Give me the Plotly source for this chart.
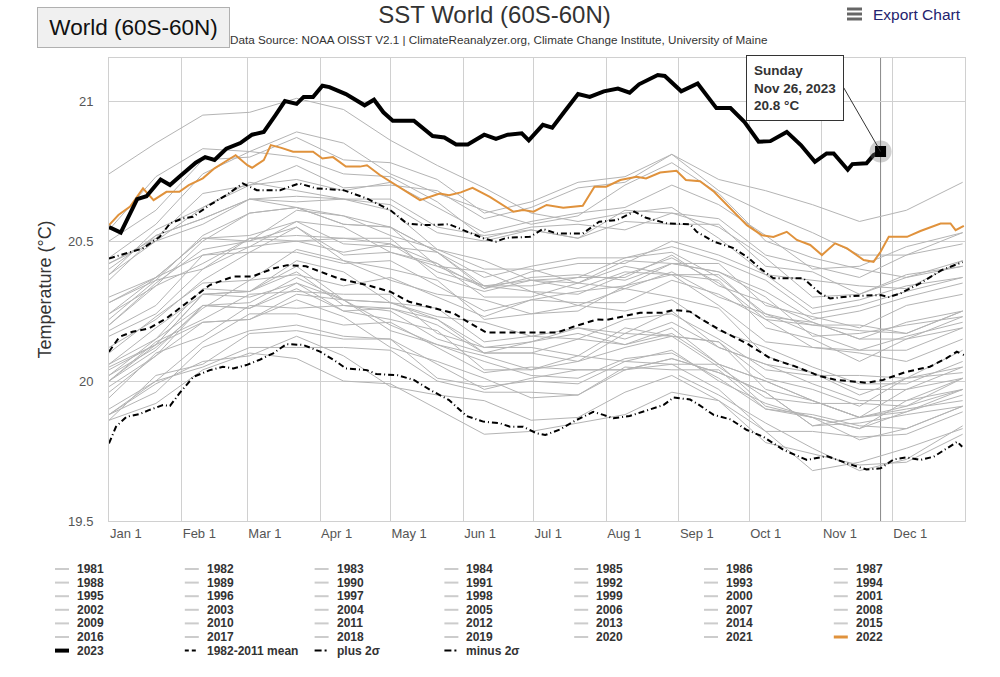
import plotly.graph_objects as go

# ---------------- data ----------------
month_starts = [0, 31, 59, 90, 120, 151, 181, 212, 243, 273, 304, 334]
month_labels = ["Jan 1", "Feb 1", "Mar 1", "Apr 1", "May 1", "Jun 1",
                "Jul 1", "Aug 1", "Sep 1", "Oct 1", "Nov 1", "Dec 1"]

gray_days = [0, 20, 40, 60, 80, 100, 120, 140, 160, 180, 200, 220, 240, 260, 280, 300, 320, 340, 364]
days_1981 = [243, 260, 280, 300, 320, 340, 364]
y1981 = [20.02, 19.95, 19.85, 19.76, 19.68, 19.72, 19.84]
y1982 = [19.88, 20.00, 20.05, 20.12, 20.12, 20.12, 20.11, 20.00, 19.96, 19.96, 19.95, 20.05, 20.04, 20.04, 19.90, 19.87, 19.83, 19.93, 19.97]
y1983 = [20.05, 20.13, 20.31, 20.30, 20.35, 20.25, 20.22, 20.18, 20.04, 20.04, 20.09, 20.07, 20.11, 20.00, 19.92, 19.87, 19.79, 19.83, 19.91]
y1984 = [19.88, 19.99, 20.07, 20.09, 20.16, 20.09, 19.98, 19.95, 19.93, 19.86, 19.87, 19.96, 20.02, 19.93, 19.78, 19.74, 19.70, 19.71, 19.81]
y1985 = [19.86, 19.92, 20.04, 20.10, 20.08, 20.00, 19.99, 19.90, 19.81, 19.82, 19.85, 19.88, 19.96, 19.93, 19.82, 19.68, 19.71, 19.76, 19.83]
y1986 = [19.86, 20.02, 20.06, 20.17, 20.18, 20.15, 20.15, 20.01, 19.98, 20.00, 19.99, 20.07, 20.06, 20.06, 19.91, 19.87, 19.83, 19.89, 19.95]
y1987 = [19.98, 20.09, 20.27, 20.28, 20.37, 20.29, 20.28, 20.26, 20.14, 20.16, 20.19, 20.17, 20.25, 20.12, 20.06, 19.99, 19.93, 19.93, 20.01]
y1988 = [20.02, 20.15, 20.27, 20.26, 20.35, 20.29, 20.18, 20.13, 20.07, 20.02, 20.01, 20.08, 20.10, 20.01, 19.90, 19.88, 19.84, 19.83, 19.91]
y1989 = [19.88, 19.96, 20.12, 20.18, 20.20, 20.16, 20.15, 20.06, 19.97, 20.01, 20.04, 20.04, 20.08, 20.03, 19.96, 19.84, 19.87, 19.90, 19.93]
y1990 = [20.00, 20.14, 20.22, 20.31, 20.32, 20.31, 20.31, 20.17, 20.12, 20.12, 20.09, 20.19, 20.16, 20.14, 19.97, 19.93, 19.87, 19.97, 20.01]
y1991 = [20.00, 20.11, 20.27, 20.26, 20.33, 20.25, 20.26, 20.22, 20.12, 20.14, 20.17, 20.13, 20.19, 20.06, 20.00, 19.93, 19.87, 19.91, 19.97]
y1992 = [20.00, 20.13, 20.21, 20.22, 20.29, 20.23, 20.12, 20.07, 20.01, 19.94, 19.95, 20.04, 20.06, 19.97, 19.82, 19.82, 19.80, 19.81, 19.89]
y1993 = [19.90, 20.00, 20.14, 20.24, 20.24, 20.20, 20.21, 20.12, 20.03, 20.05, 20.04, 20.04, 20.08, 20.03, 19.96, 19.84, 19.85, 19.88, 19.91]
y1994 = [19.94, 20.10, 20.16, 20.27, 20.26, 20.27, 20.25, 20.15, 20.10, 20.10, 20.07, 20.17, 20.16, 20.14, 20.01, 19.97, 19.91, 20.01, 20.05]
y1995 = [20.06, 20.15, 20.33, 20.32, 20.39, 20.27, 20.26, 20.20, 20.10, 20.10, 20.15, 20.13, 20.17, 20.06, 20.00, 19.93, 19.87, 19.89, 19.97]
y1996 = [19.96, 20.09, 20.21, 20.22, 20.31, 20.29, 20.20, 20.13, 20.09, 20.04, 20.07, 20.12, 20.16, 20.05, 19.94, 19.92, 19.92, 19.91, 20.01]
y1997 = [20.02, 20.12, 20.26, 20.36, 20.38, 20.34, 20.37, 20.30, 20.23, 20.29, 20.32, 20.34, 20.42, 20.39, 20.32, 20.22, 20.25, 20.30, 20.35]
y1998 = [20.36, 20.52, 20.58, 20.65, 20.62, 20.59, 20.55, 20.41, 20.34, 20.32, 20.27, 20.33, 20.30, 20.26, 20.09, 20.03, 19.95, 20.01, 20.03]
y1999 = [20.04, 20.13, 20.31, 20.32, 20.41, 20.29, 20.28, 20.22, 20.10, 20.14, 20.19, 20.15, 20.21, 20.12, 20.06, 20.03, 19.97, 19.97, 20.05]
y2000 = [20.06, 20.19, 20.31, 20.32, 20.43, 20.39, 20.28, 20.23, 20.21, 20.16, 20.15, 20.22, 20.24, 20.15, 20.04, 20.02, 20.02, 20.01, 20.11]
y2001 = [20.12, 20.22, 20.36, 20.46, 20.46, 20.42, 20.43, 20.34, 20.25, 20.29, 20.28, 20.28, 20.36, 20.31, 20.22, 20.12, 20.11, 20.16, 20.21]
y2002 = [20.20, 20.34, 20.42, 20.51, 20.52, 20.51, 20.51, 20.37, 20.32, 20.36, 20.33, 20.39, 20.38, 20.38, 20.23, 20.21, 20.15, 20.21, 20.25]
y2003 = [20.28, 20.37, 20.51, 20.52, 20.57, 20.49, 20.48, 20.46, 20.34, 20.34, 20.37, 20.37, 20.45, 20.34, 20.28, 20.21, 20.15, 20.15, 20.23]
y2004 = [20.24, 20.37, 20.45, 20.48, 20.57, 20.55, 20.46, 20.41, 20.39, 20.32, 20.31, 20.38, 20.44, 20.35, 20.22, 20.20, 20.20, 20.17, 20.25]
y2005 = [20.24, 20.34, 20.50, 20.60, 20.62, 20.56, 20.55, 20.46, 20.33, 20.37, 20.38, 20.36, 20.42, 20.39, 20.30, 20.16, 20.17, 20.20, 20.23]
y2006 = [20.22, 20.36, 20.40, 20.51, 20.50, 20.51, 20.49, 20.39, 20.34, 20.36, 20.35, 20.43, 20.42, 20.42, 20.27, 20.23, 20.19, 20.27, 20.31]
y2007 = [20.30, 20.37, 20.51, 20.50, 20.55, 20.43, 20.40, 20.36, 20.22, 20.24, 20.27, 20.25, 20.29, 20.18, 20.12, 20.05, 19.99, 19.99, 20.07]
y2008 = [20.10, 20.23, 20.35, 20.36, 20.47, 20.43, 20.36, 20.31, 20.29, 20.24, 20.25, 20.34, 20.38, 20.27, 20.14, 20.12, 20.10, 20.07, 20.15]
y2009 = [20.16, 20.24, 20.40, 20.48, 20.50, 20.46, 20.49, 20.42, 20.33, 20.39, 20.42, 20.42, 20.50, 20.45, 20.38, 20.26, 20.29, 20.34, 20.37]
y2010 = [20.38, 20.54, 20.62, 20.71, 20.68, 20.65, 20.61, 20.47, 20.40, 20.40, 20.35, 20.41, 20.38, 20.36, 20.19, 20.15, 20.07, 20.15, 20.19]
y2011 = [20.18, 20.27, 20.45, 20.46, 20.55, 20.45, 20.46, 20.42, 20.30, 20.30, 20.35, 20.33, 20.39, 20.30, 20.24, 20.17, 20.11, 20.11, 20.19]
y2012 = [20.20, 20.35, 20.47, 20.50, 20.61, 20.59, 20.52, 20.47, 20.43, 20.36, 20.37, 20.44, 20.46, 20.37, 20.24, 20.20, 20.18, 20.17, 20.25]
y2013 = [20.28, 20.36, 20.52, 20.60, 20.62, 20.56, 20.55, 20.46, 20.37, 20.41, 20.44, 20.44, 20.48, 20.43, 20.36, 20.24, 20.27, 20.32, 20.37]
y2014 = [20.38, 20.50, 20.56, 20.65, 20.66, 20.65, 20.65, 20.55, 20.52, 20.54, 20.51, 20.57, 20.56, 20.56, 20.41, 20.39, 20.31, 20.37, 20.41]
y2015 = [20.42, 20.51, 20.67, 20.70, 20.77, 20.69, 20.70, 20.68, 20.58, 20.62, 20.69, 20.71, 20.81, 20.72, 20.68, 20.63, 20.57, 20.61, 20.71]
y2016 = [20.74, 20.85, 20.95, 20.96, 21.01, 20.97, 20.86, 20.77, 20.69, 20.60, 20.57, 20.60, 20.62, 20.51, 20.38, 20.36, 20.34, 20.33, 20.43]
y2017 = [20.44, 20.56, 20.74, 20.82, 20.80, 20.74, 20.73, 20.64, 20.51, 20.55, 20.56, 20.54, 20.60, 20.55, 20.44, 20.30, 20.31, 20.38, 20.41]
y2018 = [20.40, 20.52, 20.58, 20.65, 20.64, 20.65, 20.63, 20.53, 20.50, 20.54, 20.51, 20.61, 20.60, 20.58, 20.45, 20.41, 20.37, 20.45, 20.49]
y2019 = [20.50, 20.61, 20.79, 20.80, 20.87, 20.79, 20.78, 20.72, 20.60, 20.64, 20.71, 20.73, 20.81, 20.68, 20.60, 20.53, 20.45, 20.45, 20.53]
y2020 = [20.54, 20.73, 20.83, 20.82, 20.89, 20.85, 20.74, 20.67, 20.61, 20.56, 20.59, 20.70, 20.78, 20.67, 20.50, 20.44, 20.40, 20.37, 20.43]
y2021 = [20.42, 20.50, 20.62, 20.70, 20.72, 20.68, 20.71, 20.62, 20.53, 20.57, 20.60, 20.62, 20.70, 20.63, 20.52, 20.40, 20.41, 20.48, 20.53]

days_2022 = [0, 4, 9, 14.5, 19, 24.5, 30, 34, 40, 45, 50, 54, 59, 61, 66, 69, 73.5, 78.5, 87, 91, 95.5,
             101, 107, 110, 115.5, 120.5, 127, 132.6, 141, 145, 150, 155, 162.4, 172.4, 176.6, 181,
             186.6, 193.7, 202, 207, 212, 218, 225, 229, 235, 242, 246, 252, 258, 265, 272, 278.4,
             283.3, 289, 293.3, 299, 304, 309.6, 314.7, 321.8, 326, 329, 332.5, 340.3, 346, 354.6,
             358.8, 361, 364.5]
y2022 = [20.557, 20.593, 20.623, 20.688, 20.646, 20.676, 20.676, 20.70, 20.724, 20.76, 20.786, 20.807,
         20.771, 20.762, 20.789, 20.843, 20.833, 20.819, 20.819, 20.795, 20.80, 20.766, 20.766, 20.771,
         20.736, 20.71, 20.676, 20.646, 20.67, 20.664, 20.674, 20.69, 20.658, 20.605, 20.611, 20.605,
         20.629, 20.619, 20.626, 20.694, 20.694, 20.718, 20.73, 20.724, 20.745, 20.751, 20.718, 20.714,
         20.676, 20.617, 20.557, 20.521, 20.515, 20.533, 20.504, 20.486, 20.45, 20.492, 20.474, 20.432,
         20.426, 20.462, 20.515, 20.515, 20.536, 20.563, 20.563, 20.539, 20.554]

days_2023 = [0, 5, 12, 16, 22, 26, 30, 37, 41, 45, 50, 56, 61, 66, 71, 75, 80, 83, 87, 91, 94, 101,
             109, 113, 117, 121, 130, 138, 143, 148, 153, 160, 165, 170, 176, 179, 185, 189, 194,
             200, 205, 211, 217, 222, 226, 234, 237, 244, 251, 259, 265, 271, 277, 282, 289, 295,
             301, 306, 309, 315, 317, 323, 326, 329]
y2023 = [20.55, 20.53, 20.65, 20.66, 20.72, 20.70, 20.73, 20.78, 20.80, 20.79, 20.83, 20.85, 20.88,
         20.89, 20.95, 21.00, 20.99, 21.015, 21.015, 21.055, 21.05, 21.025, 20.985, 21.005, 20.96,
         20.93, 20.93, 20.875, 20.87, 20.845, 20.845, 20.88, 20.865, 20.88, 20.885, 20.86, 20.915,
         20.905, 20.96, 21.025, 21.015, 21.035, 21.045, 21.03, 21.06, 21.093, 21.09, 21.035, 21.063,
         20.975, 20.975, 20.925, 20.855, 20.857, 20.89, 20.843, 20.783, 20.813, 20.813, 20.755, 20.775,
         20.778, 20.807, 20.82]

days_mean = [0, 4.5, 10, 17, 24.5, 30, 36, 43, 53, 61, 70, 76, 84, 90, 98, 110, 120, 128, 138, 147,
             154, 161, 170, 191, 198, 208, 212, 219, 226.5, 236, 240.7, 247.8, 252, 260.6, 272, 282,
             292, 303, 310, 323, 330, 340, 350, 357, 361.5, 364.5]
clim_mean = [20.105, 20.158, 20.176, 20.188, 20.224, 20.26, 20.30, 20.343, 20.373, 20.373, 20.402,
             20.414, 20.41, 20.39, 20.366, 20.343, 20.319, 20.283, 20.26, 20.242, 20.206, 20.173,
             20.173, 20.173, 20.194, 20.22, 20.218, 20.23, 20.244, 20.244, 20.254, 20.248, 20.224,
             20.182, 20.134, 20.081, 20.054, 20.018, 20.004, 19.994, 20.004, 20.033, 20.051, 20.081,
             20.105, 20.093]

days_plus = [0, 7.4, 14.5, 21.6, 26, 31.5, 35.8, 43, 50, 57, 63, 73, 81, 88.5, 100, 110, 120, 127,
             134, 145, 152.5, 159.6, 165, 169.6, 179.5, 185, 191, 202, 209, 216.5, 224, 229, 238,
             247.8, 250.6, 257.8, 266, 272, 277.7, 283.3, 296, 303, 307.5, 317.5, 329, 332.5, 337.5,
             346, 355, 364]
plus_2sd = [20.438, 20.456, 20.474, 20.515, 20.563, 20.581, 20.587, 20.629, 20.664, 20.706, 20.682,
            20.682, 20.706, 20.688, 20.682, 20.652, 20.61, 20.563, 20.557, 20.56, 20.533, 20.51,
            20.498, 20.512, 20.515, 20.543, 20.527, 20.527, 20.569, 20.575, 20.605, 20.583, 20.563,
            20.56, 20.533, 20.498, 20.476, 20.444, 20.402, 20.367, 20.367, 20.315, 20.295, 20.304,
            20.307, 20.30, 20.313, 20.35, 20.396, 20.425]

days_minus = [0, 3, 7.4, 13, 17, 23, 26, 30, 36, 43, 48.6, 53, 58.6, 64, 70, 75.7, 82.8, 90, 97, 101,
              110, 114, 123, 130, 137, 145, 152.5, 159.6, 166.7, 171, 176.6, 182.4, 186, 192.3,
              199.4, 206.5, 210.8, 215, 222, 230.7, 236.4, 240.7, 247.8, 250.7, 257.8, 265, 272, 279,
              287.6, 297.6, 306, 314.7, 323, 329, 334.6, 340, 346, 351.7, 357.4, 361.7, 363.8]
minus_2sd = [19.777, 19.837, 19.872, 19.882, 19.896, 19.914, 19.911, 19.956, 20.015, 20.039, 20.051,
             20.045, 20.057, 20.075, 20.099, 20.132, 20.129, 20.105, 20.069, 20.045, 20.039, 20.025,
             20.021, 20.004, 19.968, 19.932, 19.875, 19.855, 19.849, 19.837, 19.837, 19.813, 19.807,
             19.827, 19.861, 19.89, 19.879, 19.867, 19.875, 19.899, 19.914, 19.941, 19.934, 19.92,
             19.879, 19.863, 19.825, 19.801, 19.754, 19.718, 19.732, 19.706, 19.684, 19.688, 19.72,
             19.727, 19.718, 19.73, 19.76, 19.783, 19.765]

gray_years = list(range(1981, 2022))
gray_values = [y1981, y1982, y1983, y1984, y1985, y1986, y1987, y1988, y1989, y1990, y1991, y1992,
               y1993, y1994, y1995, y1996, y1997, y1998, y1999, y2000, y2001, y2002, y2003, y2004,
               y2005, y2006, y2007, y2008, y2009, y2010, y2011, y2012, y2013, y2014, y2015, y2016,
               y2017, y2018, y2019, y2020, y2021]

# ---------------- styles ----------------
FONT = "Liberation Sans, Arial, sans-serif"
GRAY = "#b4b4b4"
ORANGE = "#e0923c"
GRID = "#d0d0d0"

W, H = 1000, 677
ML, MR, MT, MB = 109, 35, 58, 156
PW, PH = W - ML - MR, H - MT - MB


def px(x):  # window pixel -> paper x
    return (x - ML) / PW


def py(y):  # window pixel -> paper y
    return (H - MB - y) / PH


fig = go.Figure()

for yr, vals in zip(gray_years, gray_values):
    xs = days_1981 if yr == 1981 else gray_days
    fig.add_trace(go.Scatter(x=xs, y=vals, mode="lines", name=str(yr),
                             line=dict(color=GRAY, width=1), hoverinfo="skip"))

fig.add_trace(go.Scatter(x=days_2022, y=y2022, mode="lines", name="2022",
                         line=dict(color=ORANGE, width=2)))
fig.add_trace(go.Scatter(x=days_2023, y=y2023, mode="lines", name="2023",
                         line=dict(color="black", width=4)))
fig.add_trace(go.Scatter(x=days_mean, y=clim_mean, mode="lines", name="1982-2011 mean",
                         line=dict(color="black", width=2, dash="6px,4px")))
fig.add_trace(go.Scatter(x=days_plus, y=plus_2sd, mode="lines", name="plus 2σ",
                         line=dict(color="black", width=2, dash="6px,3px,1px,3px")))
fig.add_trace(go.Scatter(x=days_minus, y=minus_2sd, mode="lines", name="minus 2σ",
                         line=dict(color="black", width=2, dash="6px,3px,1px,3px")))

# hovered point (last 2023 value)
last_day, last_val = days_2023[-1], y2023[-1]
fig.add_trace(go.Scatter(x=[last_day], y=[last_val], mode="markers", showlegend=False,
                         marker=dict(symbol="circle", size=22, color="rgba(120,120,120,0.35)")))
fig.add_trace(go.Scatter(x=[last_day], y=[last_val], mode="markers", showlegend=False,
                         marker=dict(symbol="square", size=11, color="black")))

shapes = []
annotations = []

# crosshair
shapes.append(dict(type="line", xref="x", yref="paper", x0=last_day, x1=last_day, y0=0, y1=1,
                   layer="below", line=dict(color="#888888", width=1)))

# tooltip
annotations.append(dict(
    x=last_day, y=last_val, xref="x", yref="y",
    text="<b>Sunday</b><br><b>Nov 26, 2023</b><br><b>20.8 °C</b>",
    showarrow=True, arrowhead=0, arrowwidth=1, arrowcolor="#333333",
    ax=-37, ay=-64, xanchor="right", yanchor="middle", align="left",
    bgcolor="white", bordercolor="#333333", borderwidth=1, borderpad=7,
    font=dict(family=FONT, size=13.5, color="#333333")))

# region button
annotations.append(dict(
    x=px(133.5), y=py(27.5), xref="paper", yref="paper", xanchor="center", yanchor="middle",
    text="World (60S-60N)", showarrow=False, width=191, height=39, borderpad=0,
    bgcolor="#f0f0f0", bordercolor="#b0b0b0", borderwidth=1,
    font=dict(family=FONT, size=22.5, color="#111111")))

# subtitle
annotations.append(dict(
    x=px(498.5), y=py(39), xref="paper", yref="paper", xanchor="center", yanchor="middle",
    text="Data Source: NOAA OISST V2.1 | ClimateReanalyzer.org, Climate Change Institute, University of Maine",
    showarrow=False, font=dict(family=FONT, size=11.7, color="#333333")))

# export chart
annotations.append(dict(
    x=px(871), y=py(14), xref="paper", yref="paper", xanchor="left", yanchor="middle",
    text="Export Chart", showarrow=False, font=dict(family=FONT, size=15.5, color="#23236e")))
for yb in (9, 14, 19):
    shapes.append(dict(type="line", xref="paper", yref="paper", x0=px(847), x1=px(862),
                       y0=py(yb), y1=py(yb), line=dict(color="#666666", width=3)))

# custom legend (7 columns, Highcharts-like compact rows)
legend_items = [(str(y), "gray") for y in gray_years] + [("2022", "orange"), ("2023", "black"),
                ("1982-2011 mean", "mean"), ("plus 2σ", "sd"), ("minus 2σ", "sd")]
col_w, row_h = 129.8, 13.6
for i, (label, style) in enumerate(legend_items):
    r, c = divmod(i, 7)
    ycen = 569 + r * row_h
    x0 = 55 + c * col_w
    if style == "gray":
        ln = dict(color="#cccccc", width=2)
    elif style == "orange":
        ln = dict(color=ORANGE, width=3)
    elif style == "black":
        ln = dict(color="black", width=4)
    elif style == "mean":
        ln = dict(color="black", width=2, dash="4px,3px")
    else:
        ln = dict(color="black", width=2, dash="7px,3px,2px,3px")
    shapes.append(dict(type="line", xref="paper", yref="paper", x0=px(x0), x1=px(x0 + 14),
                       y0=py(ycen), y1=py(ycen), line=ln))
    annotations.append(dict(x=px(x0 + 20), y=py(ycen), xref="paper", yref="paper",
                            xanchor="left", yanchor="middle", text=f"<b>{label}</b>",
                            showarrow=False, font=dict(family=FONT, size=12, color="#333333")))

fig.update_layout(
    width=W, height=H,
    margin=dict(l=ML, r=MR, t=MT, b=MB),
    paper_bgcolor="white", plot_bgcolor="white",
    showlegend=False,
    title=dict(text="SST World (60S-60N)", x=494.5 / W, xref="container", xanchor="center",
               y=1 - 15 / H, yref="container", yanchor="middle",
               font=dict(family=FONT, size=24, color="#333333")),
    xaxis=dict(range=[0, 365], tickvals=month_starts, ticktext=month_labels,
               ticklabelposition="outside right", ticks="outside", ticklen=12,
               tickcolor="rgba(0,0,0,0)",
               showgrid=True, gridcolor=GRID, gridwidth=1,
               showline=True, linecolor=GRID, mirror=True, zeroline=False,
               tickfont=dict(family=FONT, size=13, color="#555555")),
    yaxis=dict(range=[19.5, 21.154], tickvals=[19.5, 20, 20.5, 21],
               ticktext=["19.5", "20", "20.5", "21"],
               ticks="outside", ticklen=12, tickcolor="rgba(0,0,0,0)",
               showgrid=True, gridcolor=GRID, gridwidth=1,
               showline=True, linecolor=GRID, mirror=True, zeroline=False,
               tickfont=dict(family=FONT, size=13, color="#555555"),
               title=dict(text="Temperature (°C)", standoff=11,
                          font=dict(family=FONT, size=18, color="#333333"))),
    shapes=shapes, annotations=annotations,
)

# remove the default 8px page margin so the 1000x677 figure fills the window exactly
fig.write_html("out.html", config={"displayModeBar": False},
               post_script="document.body.style.margin='0';")
